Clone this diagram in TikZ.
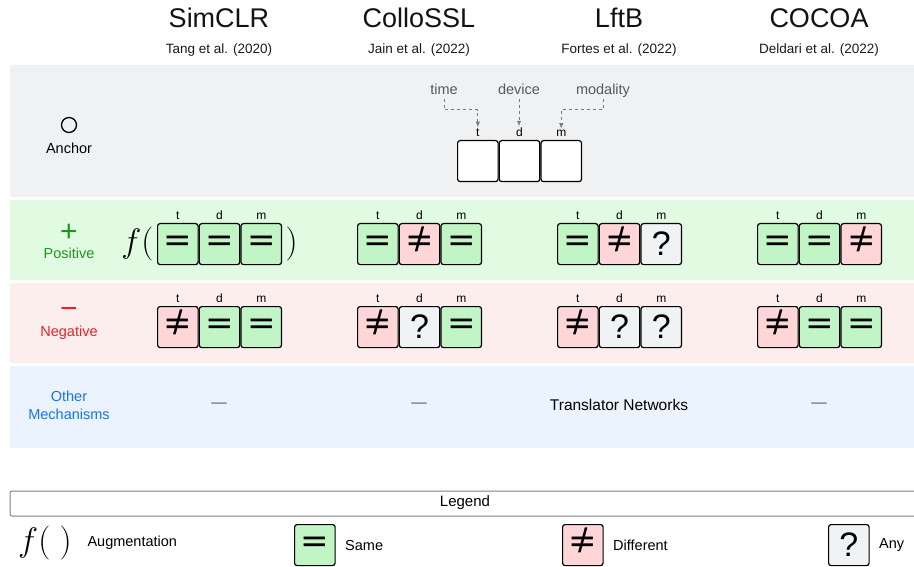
\RequirePackage{fix-cm}
\documentclass[tikz,border=0pt]{standalone}
\usepackage{fontspec}
\setmainfont{Liberation Sans}
\newfontfamily\symfont{DejaVu Sans}
\usepackage{xcolor}
\usetikzlibrary{arrows,positioning}

\definecolor{anchorbg}{HTML}{F0F1F3}
\definecolor{posbg}{HTML}{E1FAE2}
\definecolor{negbg}{HTML}{FDEEEE}
\definecolor{otherbg}{HTML}{EBF3FE}
\definecolor{samefill}{HTML}{C2F5C5}
\definecolor{difffill}{HTML}{FFD6D8}
\definecolor{anyfill}{HTML}{F1F2F4}
\definecolor{posgreen}{HTML}{1E961E}
\definecolor{negred}{HTML}{E8202A}
\definecolor{otherblue}{HTML}{1A73E8}
\definecolor{hintgray}{HTML}{555A60}

\newcommand{\syme}{\symfont\fontsize{34}{34}\selectfont =}
\newcommand{\symn}{\fontsize{34}{34}\selectfont\ooalign{\symfont=\cr\hidewidth/\hidewidth\cr}}
\newcommand{\symq}{\fontsize{34}{34}\selectfont ?}
\newcommand{\symw}{}

\tikzset{
  cell/.style={draw, line width=1.2pt, rounded corners=2.5pt, minimum width=40.5pt,
    minimum height=41pt, inner sep=0pt, anchor=north west},
  celle/.style={cell, fill=samefill},
  celln/.style={cell, fill=difffill},
  cellq/.style={cell, fill=anyfill},
  cellw/.style={cell, fill=white},
  dimlab/.style={font=\fontsize{12}{12}\selectfont, inner sep=1pt},
  title/.style={font=\fontsize{27}{27}\selectfont, text=black!93},
  cite/.style={font=\fontsize{13.5}{14}\selectfont, text=black!90},
  rowlab/.style={font=\fontsize{14.5}{18}\selectfont, align=center},
  hint/.style={font=\fontsize{14.5}{15}\selectfont, text=hintgray, text height=10.5pt,
    text depth=3pt, inner sep=1pt},
  mech/.style={font=\fontsize{15.5}{16}\selectfont},
  hintarr/.style={draw=hintgray!80, dashed, line width=0.9pt, -latex},
  band/.style={rounded corners=2pt}
}

\newcommand{\triple}[6]{%
  \node[cell#4] (#1t) at (#2,#3) {\csname sym#4\endcsname};
  \node[cell#5, right=0pt of #1t] (#1d) {\csname sym#5\endcsname};
  \node[cell#6, right=0pt of #1d] (#1m) {\csname sym#6\endcsname};
  \foreach \k in {t,d,m} \node[dimlab, above=2.5pt of #1\k] (#1\k l) {\k};
}

\begin{document}
\begin{tikzpicture}[x=1pt,y=-1pt]
  \useasboundingbox (0,0) rectangle (914,567);

  \fill[anchorbg, band] (10,65) rectangle (925,197);
  \fill[posbg, band] (10,200) rectangle (925,280);
  \fill[negbg, band] (10,283) rectangle (925,363);
  \fill[otherbg, band] (10,366) rectangle (925,448);

  \foreach \n/\x/\t/\s in {simclr/219/SimCLR/Tang et al. (2020),
      collossl/419/ColloSSL/Jain et al. (2022),
      lftb/619/LftB/Fortes et al. (2022),
      cocoa/819/COCOA/Deldari et al. (2022)} {
    \node[title] (\n) at (\x,18) {\t};
    \node[cite] (\n-ref) at (\x,50) {\s};
  }

  \node[circle, draw, line width=1.3pt, minimum size=15pt, inner sep=0pt] (anc) at (69,125) {};
  \node[rowlab] (anclab) at (69,148) {Anchor};
  \node[text=posgreen, font=\fontsize{30}{30}\selectfont] (plus) at (69,233) {+};
  \node[rowlab, text=posgreen] (poslab) at (69,253) {Positive};
  \node[text=negred, font=\fontsize{30}{30}\selectfont] (minus) at (69,313) {−};
  \node[rowlab, text=negred] (neglab) at (69,333) {Negative};
  \node[rowlab, text=otherblue] (othlab) at (69,405) {Other\\Mechanisms};

  \triple{a}{457}{140}{w}{w}{w}
  \node[hint] (time) at (444,91) {time};
  \node[hint] (device) at (519,91) {device};
  \node[hint] (modality) at (603,91) {modality};
  \draw[hintarr] (time.south) -- ++(0,11) -| (atl.north);
  \draw[hintarr] (device.south) -- (device.south |- adl.north);
  \draw[hintarr] (modality.south) -- ++(0,11) -| (aml.north);

  \triple{p1}{157}{223}{e}{e}{e}
  \triple{p2}{357}{223}{e}{n}{e}
  \triple{p3}{557}{223}{e}{n}{q}
  \triple{p4}{757}{223}{e}{e}{n}
  \node[font=\fontsize{34}{34}\selectfont, left=0pt of p1t] (aug-l) {$f($};
  \node[font=\fontsize{34}{34}\selectfont, right=0pt of p1m] (aug-r) {$)$};

  \triple{n1}{157}{306}{n}{e}{e}
  \triple{n2}{357}{306}{n}{q}{e}
  \triple{n3}{557}{306}{n}{q}{q}
  \triple{n4}{757}{306}{n}{e}{e}

  \node[mech, text=hintgray] (mech1) at (219,405) {—};
  \node[mech, text=hintgray] (mech2) at (419,405) {—};
  \node[mech] (mech3) at (619,405) {Translator Networks};
  \node[mech, text=hintgray] (mech4) at (819,405) {—};

  \draw[draw=gray, line width=1pt, rounded corners=2pt, fill=white] (10,491) rectangle (930,516);
  \node[font=\fontsize{15}{15}\selectfont] (legend) at (465,503) {Legend};
  \node[font=\fontsize{34}{34}\selectfont] (leg-aug) at (45,543) {$f(\;)$};
  \node[rowlab, anchor=west] (leg-augtxt) at (84,543) {Augmentation};
  \node[celle] (leg-same) at (294,524) {\syme};
  \node[rowlab, anchor=west, right=6pt of leg-same] (leg-sametxt) {Same};
  \node[celln] (leg-diff) at (562,524) {\symn};
  \node[rowlab, anchor=west, right=6pt of leg-diff] (leg-difftxt) {Different};
  \node[cellq] (leg-any) at (828,524) {\symq};
  \node[rowlab, anchor=west, right=6pt of leg-any] (leg-anytxt) {Any};
\end{tikzpicture}
\end{document}
